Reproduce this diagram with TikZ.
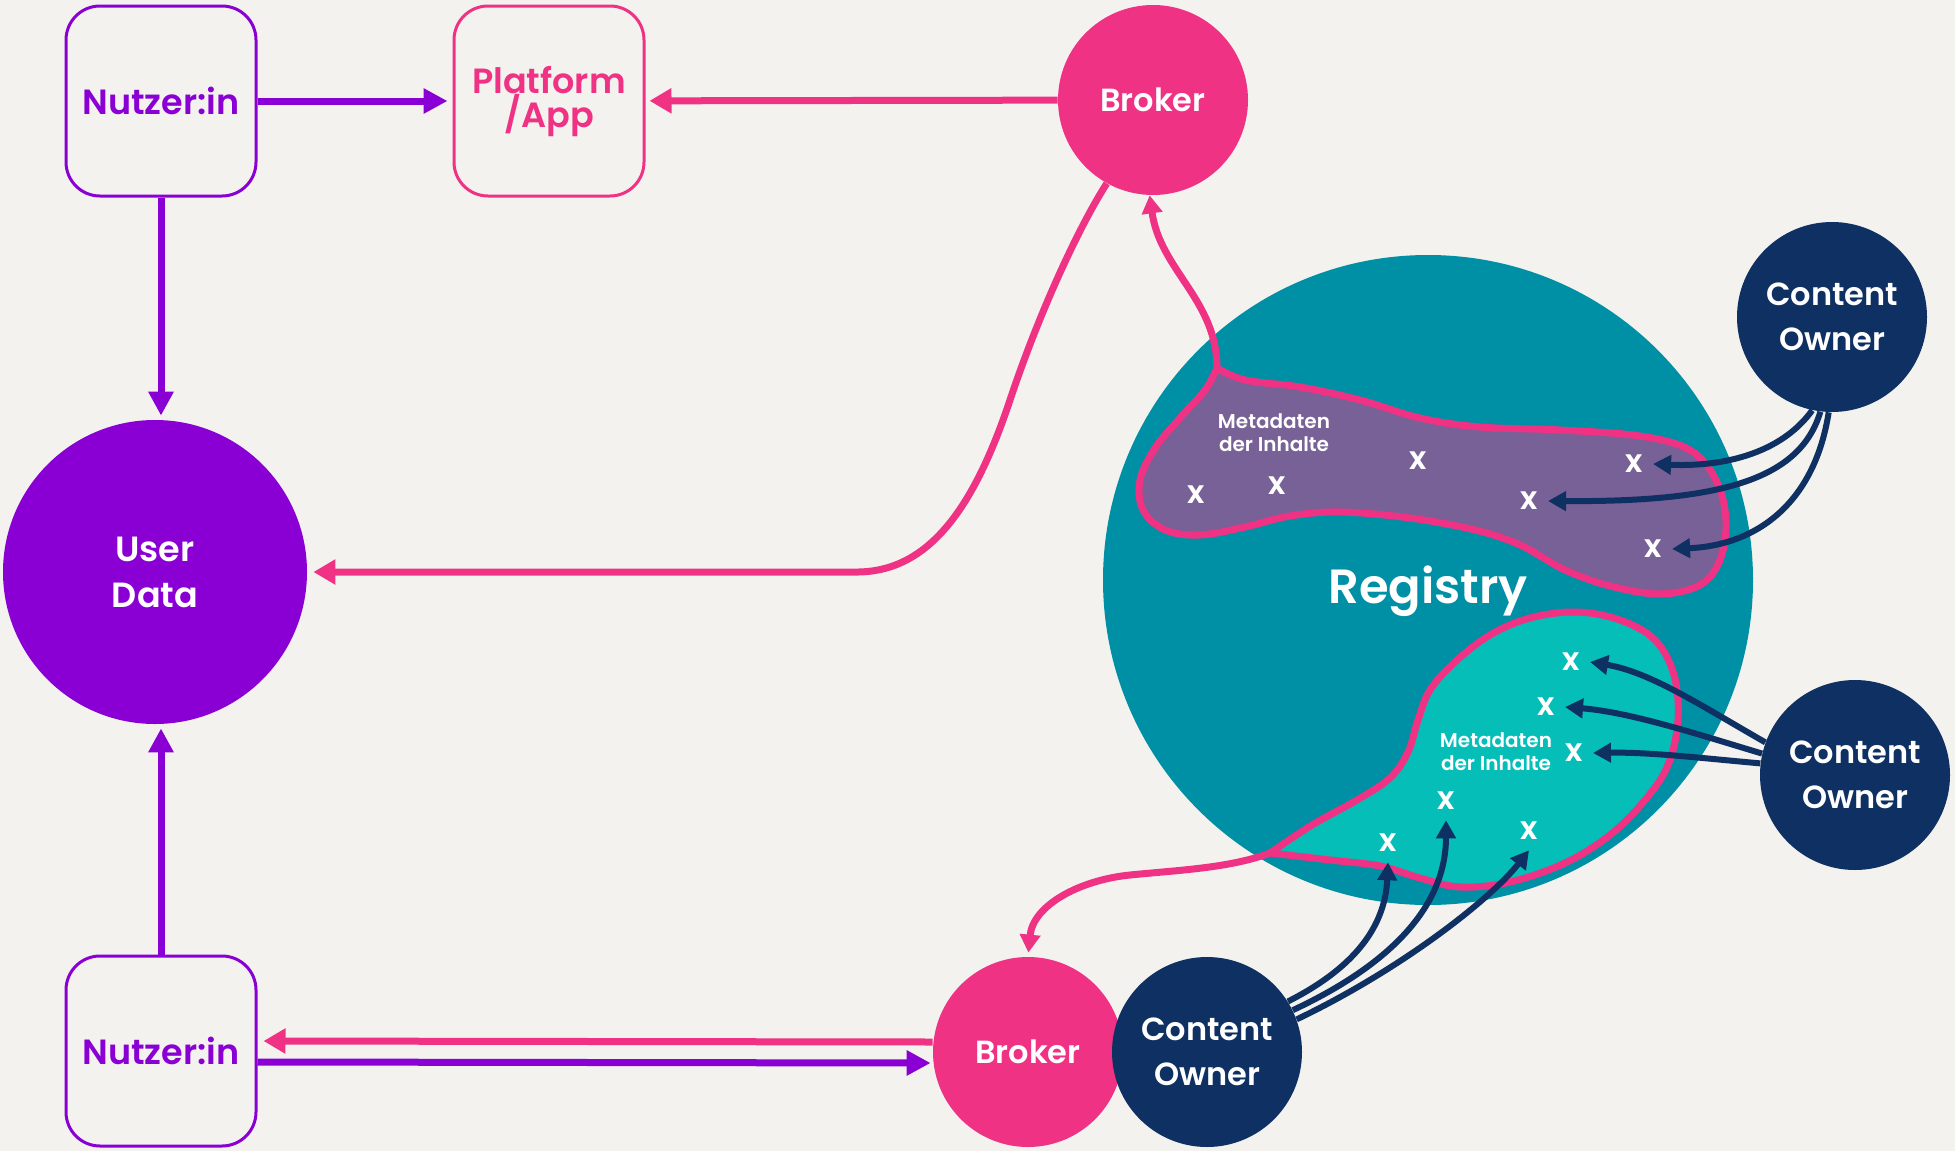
\documentclass[tikz,border=0pt]{standalone}
\usepackage{fontspec}
\setmainfont{Poppins}[BoldFont={Poppins SemiBold}]
\usepackage{tikz}
\usetikzlibrary{arrows.meta}

\definecolor{paper}{HTML}{F3F2EE}
\definecolor{nutzerpurple}{HTML}{8A00D4}
\definecolor{brokerpink}{HTML}{EF3283}
\definecolor{ownernavy}{HTML}{0F3062}
\definecolor{registryteal}{HTML}{0090A6}
\definecolor{metapurple}{HTML}{786196}
\definecolor{metateal}{HTML}{05BEB8}

\tikzset{
    userbox/.style={draw, line width=1.5pt, rounded corners=17pt, minimum width=95pt,
        minimum height=95pt, align=center, font=\fontsize{17.5}{17}\selectfont\bfseries},
    disc/.style={circle, inner sep=0pt, minimum size=#1, align=center, text=white,
        font=\fontsize{16}{22.5}\selectfont\bfseries},
    xmark/.style={text=white, inner sep=5pt, font=\fontsize{16}{14}\selectfont\bfseries},
    metatext/.style={text=white, align=center, font=\fontsize{10}{11.5}\selectfont\bfseries},
    purplearrow/.style={nutzerpurple, line width=3.5pt, -{Triangle[length=12pt,width=12pt]}},
    pinkarrow/.style={brokerpink, line width=3.5pt, -{Triangle[length=11pt,width=12pt]}},
    navyarrow/.style={ownernavy, line width=3pt, -{Triangle[length=9pt,width=9.5pt]}},
    blobline/.style={draw=brokerpink, line width=3.5pt, line join=round}
}

\begin{document}
\begin{tikzpicture}[x=0.5pt,y=-0.5pt]
    \fill[paper] (0,0) rectangle (1955,1151);
    \useasboundingbox (0,0) rectangle (1955,1151);

    % registry and its two metadata pools
    \node[disc=325pt, fill=registryteal] (registry) at (1428,580) {};
    \coordinate (metaTopJoin) at (1217,368);
    \coordinate (metaBotJoin) at (1270,853);
    \filldraw[blobline, fill=metapurple] plot[smooth, tension=0.6] coordinates {
        (metaTopJoin) (1245,380) (1300,387) (1360,400) (1420,418) (1480,427) (1560,430)
        (1640,436) (1690,450) (1716,480) (1726,520) (1720,560) (1700,585) (1660,594)
        (1610,586) (1565,570) (1520,545) (1475,530) (1410,518) (1340,512) (1290,516)
        (1245,527) (1200,535) (1165,530) (1143,510) (1140,480) (1155,448) (1180,418)
        (1205,390) (metaTopJoin)} -- cycle;
    \filldraw[blobline, fill=metateal] plot[smooth, tension=0.6] coordinates {
        (metaBotJoin) (1312,825) (1357,800) (1390,778) (1408,752) (1418,720) (1430,690)
        (1455,662) (1490,635) (1530,618) (1576,612) (1620,620) (1655,640) (1674,675)
        (1678,720) (1668,765) (1645,800) (1610,835) (1565,863) (1510,882) (1460,887)
        (1420,878) (1380,866) (1330,860) (metaBotJoin)} -- cycle;
    \node[text=white, font=\fontsize{24}{24}\selectfont\bfseries] (registryLabel) at (1428,591) {Registry};
    \node[metatext] (metaTopLabel) at (1274,433) {Metadaten\\der Inhalte};
    \node[metatext] (metaBotLabel) at (1496,752) {Metadaten\\der Inhalte};
    \foreach \pos/\name in {(1196,495)/mu1, (1277,486)/mu2, (1418,461)/mu3, (1634,464)/mu4,
        (1529,501)/mu5, (1653,549)/mu6, (1571,662)/ml1, (1546,707)/ml2, (1574,753)/ml3,
        (1446,801)/ml4, (1388,843)/ml5, (1529,831)/ml6}
        \node[xmark] (\name) at \pos {x};

    % actors
    \node[userbox, draw=nutzerpurple, text=nutzerpurple] (nutzerTop) at (161,101) {Nutzer:in};
    \node[userbox, draw=brokerpink, text=brokerpink] (platform) at (549,101) {Platform\\/App};
    \node[disc=95pt, fill=brokerpink] (brokerTop) at (1153,100) {Broker};
    \node[disc=152pt, fill=nutzerpurple, font=\fontsize{17.5}{23}\selectfont\bfseries] (userData) at (155,572) {User\\Data};
    \node[userbox, draw=nutzerpurple, text=nutzerpurple] (nutzerBot) at (161,1051) {Nutzer:in};
    \node[disc=95pt, fill=brokerpink] (brokerBot) at (1028,1052) {Broker};
    \node[disc=95pt, fill=ownernavy] (ownerBot) at (1207,1052) {Content\\Owner};
    \node[disc=95pt, fill=ownernavy] (ownerTop) at (1832,317) {Content\\Owner};
    \node[disc=95pt, fill=ownernavy] (ownerMid) at (1855,775) {Content\\Owner};

    % flows
    \draw[purplearrow, shorten >=2.5pt] (nutzerTop) -- (platform);
    \draw[pinkarrow, shorten >=2pt] (brokerTop) -- (platform);
    \draw[purplearrow, shorten >=2pt] (nutzerTop.south) -- (nutzerTop.south |- userData.north);
    \draw[purplearrow, shorten >=2pt] (nutzerBot.north) -- (nutzerBot.north |- userData.south);
    \draw[pinkarrow, shorten >=3pt] (brokerTop.241) .. controls (1080,225) and (1040,310) .. (1010,400)
        .. controls (975,505) and (930,573) .. (855,572) -- (userData.east);
    \draw[pinkarrow, shorten >=3pt] ([yshift=5pt]brokerBot.west) -- ([yshift=5pt]nutzerBot.east);
    \draw[purplearrow, shorten >=1pt] ([yshift=-5.5pt]nutzerBot.east) -- ([yshift=-5.5pt]brokerBot.west);
    \draw[pinkarrow, -{Triangle[length=9pt,width=10pt]}] (metaTopJoin) .. controls (1217,300) and (1160,270) .. (brokerTop.268);
    \draw[pinkarrow, -{Triangle[length=9pt,width=10pt]}, shorten >=2pt] (metaBotJoin) .. controls (1230,868) and (1180,870) .. (1130,875)
        .. controls (1080,880) and (1033,905) .. (brokerBot.north);

    % content owners feed the pools
    \draw[navyarrow] (ownerTop.258) .. controls (1780,455) and (1720,467) .. (mu4.east);
    \draw[navyarrow] (ownerTop.263) .. controls (1800,480) and (1720,502) .. (mu5.east);
    \draw[navyarrow] (ownerTop.268) .. controls (1815,500) and (1760,545) .. (mu6.east);
    \draw[navyarrow] (ownerMid.160) .. controls (1700,705) and (1650,672) .. (ml1.east);
    \draw[navyarrow] (ownerMid.167) .. controls (1700,735) and (1630,712) .. (ml2.east);
    \draw[navyarrow] (ownerMid.173) .. controls (1700,758) and (1650,752) .. (ml3.east);
    \draw[navyarrow] (ownerBot.32) .. controls (1350,970) and (1385,930) .. (ml5.south);
    \draw[navyarrow] (ownerBot.26) .. controls (1400,960) and (1446,900) .. (ml4.south);
    \draw[navyarrow] (ownerBot.20) .. controls (1400,970) and (1490,900) .. (ml6.south);
\end{tikzpicture}
\end{document}
